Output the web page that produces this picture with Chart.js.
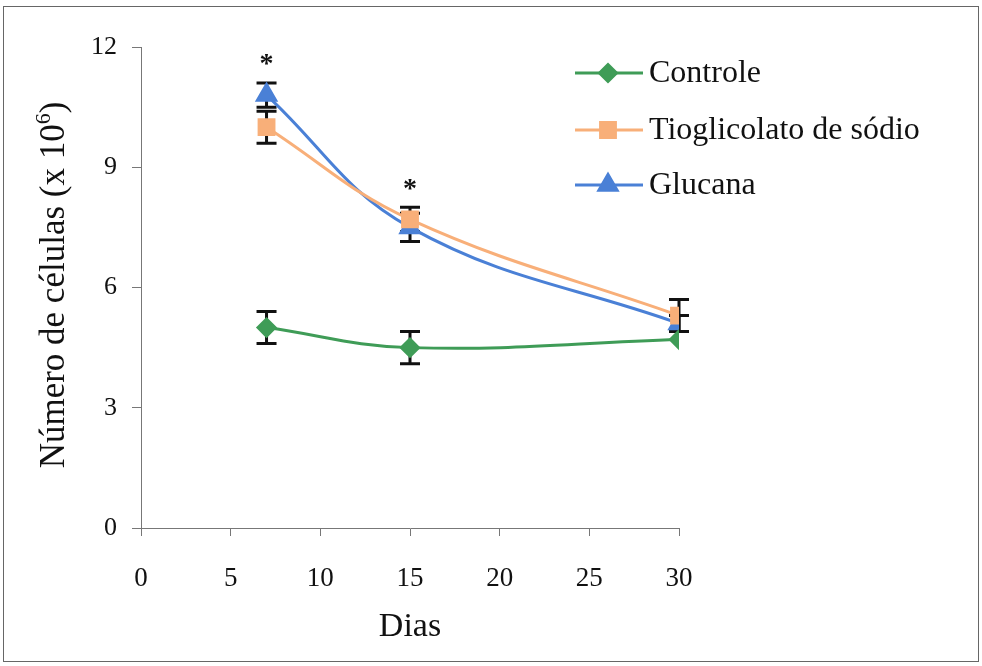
<!DOCTYPE html>
<html lang="pt">
<head>
  <meta charset="UTF-8">
  <title>Número de células</title>
  <script src="https://cdn.jsdelivr.net/npm/chart.js"></script>
  <style>
    body { margin:0; background:#fff; }
    #wrap { position:relative; width:982px; height:666px; }
  </style>
</head>
<body>
<div id="wrap"><canvas id="chart" width="982" height="666"></canvas></div>
<script>
const days = [7, 15, 30];
const controle = [5.0, 4.5, 4.7];
const controleErr = [0.4, 0.4, 0];
const tioglicolato = [10.0, 7.7, 5.3];
const tioglicolatoErr = [0.4, 0.3, 0.4];
const glucana = [10.8, 7.5, 5.1];
const glucanaErr = [0.3, 0.35, 0.2];
const sigDays = [7, 15];
const seriesNames = ["Controle", "Tioglicolato de sódio", "Glucana"];

const serif = "'Liberation Serif', 'Times New Roman', serif";
const pts = vals => days.map((d,i)=>({x:d, y:vals[i]}));

const series = [
  {label:seriesNames[0], data:pts(controle), err:controleErr, color:'#3f9c57', style:'rectRot', r:8.5},
  {label:seriesNames[1], data:pts(tioglicolato), err:tioglicolatoErr, color:'#f8af79', style:'rect', r:10.5},
  {label:seriesNames[2], data:pts(glucana), err:glucanaErr, color:'#4a80d6', style:'triangle', r:10.5}
];

const extras = {
  id:'extras',
  beforeDraw(chart){
    const c = chart.ctx;
    c.save();
    c.fillStyle = '#fff';
    c.fillRect(0,0,chart.width,chart.height);
    c.strokeStyle = '#666';
    c.lineWidth = 1;
    c.strokeRect(3.5, 6.5, 975, 655);
    c.restore();
  },
  beforeDatasetsDraw(chart){
    // error bars under the markers
    const c = chart.ctx, xs = chart.scales.x, ys = chart.scales.y;
    c.save();
    c.strokeStyle = '#111';
    c.lineWidth = 3;
    series.forEach(s=>{
      s.data.forEach((p,i)=>{
        const e = s.err[i];
        if(!e) return;
        const x = xs.getPixelForValue(p.x);
        const y1 = ys.getPixelForValue(p.y - e), y2 = ys.getPixelForValue(p.y + e);
        c.beginPath();
        c.moveTo(x,y1); c.lineTo(x,y2);
        c.moveTo(x-10,y1); c.lineTo(x+10,y1);
        c.moveTo(x-10,y2); c.lineTo(x+10,y2);
        c.stroke();
      });
    });
    c.restore();
  },
  afterDraw(chart){
    const c = chart.ctx, xs = chart.scales.x, ys = chart.scales.y, a = chart.chartArea;
    c.save();
    c.fillStyle = '#111';
    // asterisks
    c.font = 'bold 28px ' + serif;
    c.textAlign = 'center';
    c.textBaseline = 'middle';
    sigDays.forEach(d=>{
      const i = days.indexOf(d);
      let top = 0;
      series.forEach(s=>{ top = Math.max(top, s.data[i].y + s.err[i]); });
      c.fillText('*', xs.getPixelForValue(d), ys.getPixelForValue(top) - 18);
    });
    // x title
    c.font = '34px ' + serif;
    c.fillText('Dias', (a.left + a.right)/2, 627);
    // y title with superscript
    c.save();
    c.translate(64, 285);
    c.rotate(-Math.PI/2);
    c.textBaseline = 'alphabetic';
    const t1 = 'Número de células (x 10', t2 = '6', t3 = ')';
    c.font = '35px ' + serif;
    const w1 = c.measureText(t1).width, w3 = c.measureText(t3).width;
    c.font = '22px ' + serif;
    const w2 = c.measureText(t2).width;
    let x0 = -(w1 + w2 + w3)/2;
    c.textAlign = 'left';
    c.font = '35px ' + serif;
    c.fillText(t1, x0, 0);
    c.font = '22px ' + serif;
    c.fillText(t2, x0 + w1, -14);
    c.font = '35px ' + serif;
    c.fillText(t3, x0 + w1 + w2, 0);
    c.restore();
    // legend
    const rows = [73, 130, 185];
    series.forEach((s,i)=>{
      const y = rows[i];
      c.strokeStyle = s.color;
      c.lineWidth = 3;
      c.beginPath(); c.moveTo(575,y); c.lineTo(643,y); c.stroke();
      c.fillStyle = s.color;
      Chart.helpers.drawPoint(c, {pointStyle:s.style, radius:s.r, rotation:0, borderWidth:1}, 608, y);
      c.fill();
      c.fillStyle = '#111';
      c.font = '32px ' + serif;
      c.textAlign = 'left';
      c.fillText(s.label, 649, y + 1);
    });
    c.restore();
  }
};

new Chart(document.getElementById('chart').getContext('2d'), {
  type:'line',
  data:{
    datasets: series.map(s=>({
      label:s.label,
      data:s.data,
      borderColor:s.color,
      backgroundColor:s.color,
      pointBackgroundColor:s.color,
      pointBorderColor:s.color,
      pointStyle:s.style,
      pointRadius:s.r,
      borderWidth:3,
      tension:0.4
    }))
  },
  options:{
    responsive:false,
    animation:false,
    layout:{ padding:{ left:0, right:303, top:47, bottom:0 } },
    plugins:{ legend:{display:false}, tooltip:{enabled:false} },
    scales:{
      x:{
        type:'linear', min:0, max:30,
        afterFit(s){ s.height = 138; },
        ticks:{ stepSize:5, color:'#111', padding:27, font:{family:serif, size:27} },
        grid:{ drawOnChartArea:false, drawTicks:true, tickLength:8, color:'#777' },
        border:{ color:'#777', width:1 }
      },
      y:{
        min:0, max:12,
        afterFit(s){ s.width = 141; },
        ticks:{ stepSize:3, color:'#111', padding:15, font:{family:serif, size:26} },
        grid:{ drawOnChartArea:false, drawTicks:true, tickLength:9, color:'#777' },
        border:{ color:'#777', width:1 }
      }
    }
  },
  plugins:[extras]
});
</script>
</body>
</html>
